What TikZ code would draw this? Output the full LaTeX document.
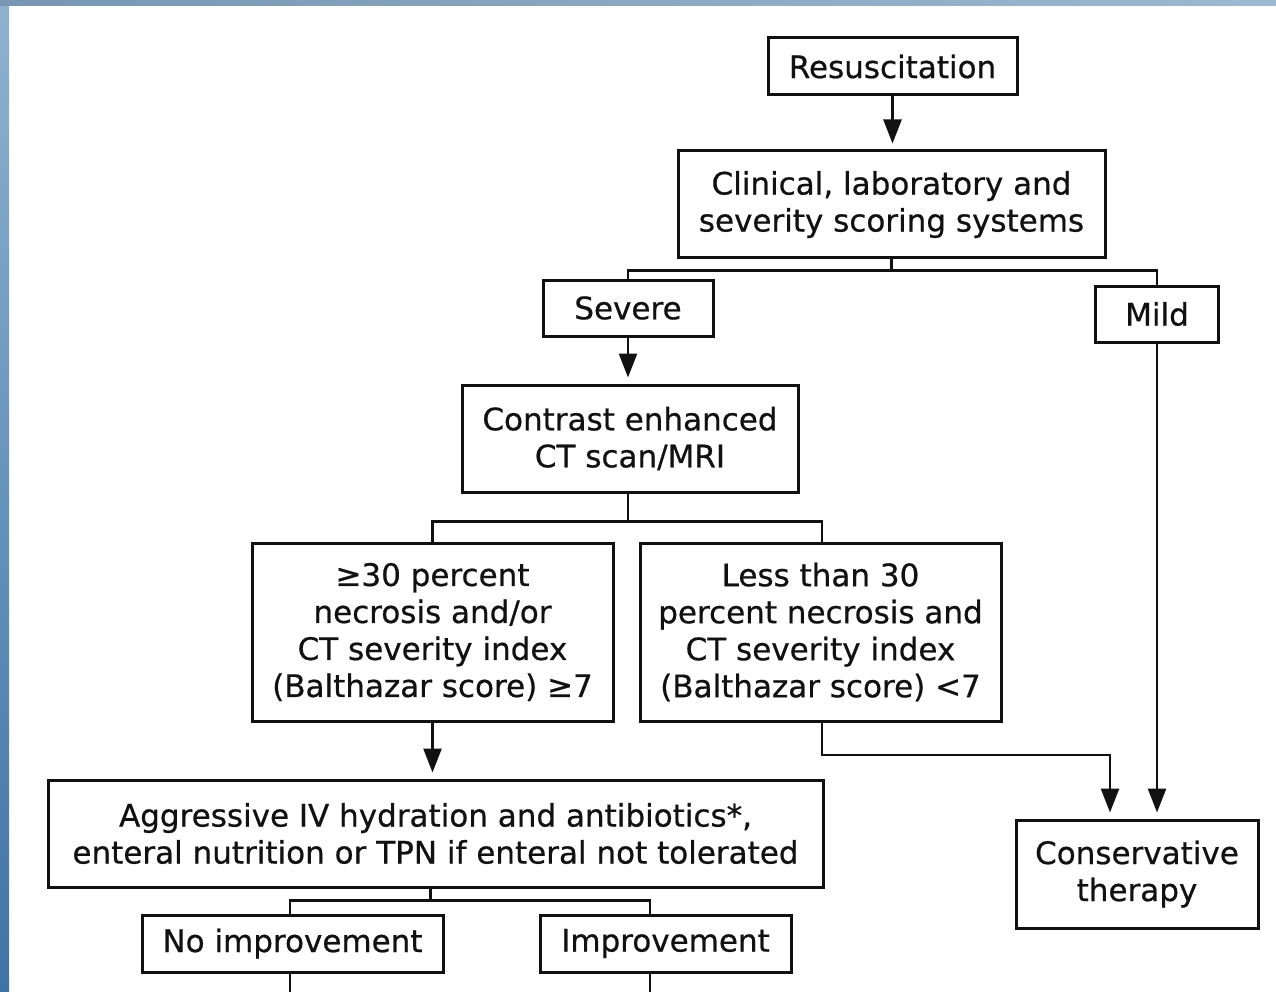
\documentclass[tikz,border=0pt]{standalone}
\usepackage{fontspec}
\setmainfont{DejaVu Sans}[FakeBold=0.6]
\usetikzlibrary{arrows.meta}
\definecolor{txt}{HTML}{111111}
\definecolor{bluetop}{HTML}{8FB2CF}
\definecolor{bluebot}{HTML}{3E74A6}
\definecolor{bartop}{HTML}{86A7C6}
\tikzset{
  box/.style={draw=txt, line width=3pt, fill=white, align=center, text=txt,
    inner sep=0pt, font=\fontsize{31}{37}\selectfont},
  conn/.style={draw=txt, line width=2.6pt},
  arr/.style={conn, -{Triangle[width=18pt,length=24pt]}, shorten >=6pt}
}
\begin{document}
\begin{tikzpicture}[x=1pt,y=-1pt]
\useasboundingbox (0,0) rectangle (1276,992);
\fill[white] (0,0) rectangle (1276,992);
\shade[top color=bluetop, bottom color=bluebot] (0,0) rectangle (9,992);
\shade[left color=bartop!90!black, right color=bartop!80!white] (0,0) rectangle (1276,6);

\node[box, minimum width=249pt, minimum height=57pt] (res) at (892.5,66.5) {Resuscitation};
\node[box, minimum width=427pt, minimum height=107pt] (clin) at (891.5,204.5) {Clinical, laboratory and\\severity scoring systems};
\node[box, minimum width=170pt, minimum height=56pt] (sev) at (628,308) {Severe};
\node[box, minimum width=123pt, minimum height=56pt] (mild) at (1157,314) {Mild};
\node[box, minimum width=336pt, minimum height=107pt] (ct) at (630,438.5) {Contrast enhanced\\CT scan/MRI};
\node[box, minimum width=361pt, minimum height=178pt] (a) at (432.5,632) {≥30 percent\\necrosis and/or\\CT severity index\\(Balthazar score) ≥7};
\node[box, minimum width=361pt, minimum height=178pt] (b) at (820.5,632) {Less than 30\\percent necrosis and\\CT severity index\\(Balthazar score) <7};
\node[box, minimum width=775pt, minimum height=107pt] (agg) at (435.5,833.5) {Aggressive IV hydration and antibiotics*,\\enteral nutrition or TPN if enteral not tolerated};
\node[box, minimum width=242pt, minimum height=108pt] (cons) at (1137,874) {Conservative\\therapy};
\node[box, minimum width=301pt, minimum height=57pt] (ni) at (292.5,943.5) {No improvement};
\node[box, minimum width=251pt, minimum height=57pt] (imp) at (665.5,943.5) {Improvement};

\coordinate (bturn) at (1110,755);
\coordinate (nibot) at (290,1000);
\coordinate (impbot) at (650,1000);

\draw[arr] (res.south) -- (res.south |- clin.north);
\draw[conn] (clin.south) -- ++(0,11) -| (sev.north);
\draw[conn] (clin.south) -- ++(0,11) -| (mild.north);
\draw[arr] (sev.south) -- (sev.south |- ct.north);
\draw[conn] ([xshift=-2pt]ct.south) -- ++(0,28) -| (a.north);
\draw[conn] ([xshift=-2pt]ct.south) -- ++(0,28) -| ([xshift=1.5pt]b.north);
\draw[arr] (a.south) -- (a.south |- agg.north);
\draw[arr] ([xshift=1.5pt]b.south) |- (bturn) -- (bturn |- cons.north);
\draw[arr] (mild.south) -- (mild.south |- cons.north);
\draw[conn] ([xshift=-5pt]agg.south) -- ++(0,12) -| ([xshift=-2.5pt]ni.north);
\draw[conn] ([xshift=-5pt]agg.south) -- ++(0,12) -| ([xshift=-15.5pt]imp.north);
\draw[conn] ([xshift=-2.5pt]ni.south) -- (nibot);
\draw[conn] ([xshift=-15.5pt]imp.south) -- (impbot);
\end{tikzpicture}
\end{document}
